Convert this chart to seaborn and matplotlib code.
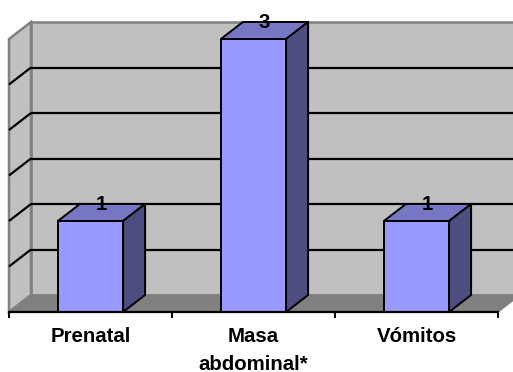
import numpy as np
import matplotlib
matplotlib.use("Agg")
import matplotlib.pyplot as plt
from matplotlib.patches import Polygon
from matplotlib.ticker import FixedLocator
import seaborn as sns

# Chart data
categories = ["Prenatal", "Masa\nabdominal*", "Vómitos"]
values = [1, 3, 1]
y_max = 3.0
grid_step = 0.5

# Colours of the pseudo-3D style
FRONT = "#9999FF"
TOP = "#7676C4"
SIDE = "#4D4D80"
WALL = "#C0C0C0"
FLOOR = "#808080"
WALL_EDGE = "#808080"

sns.set_style("white")
plt.rcParams["font.family"] = ["Liberation Sans", "DejaVu Sans"]

W, H, DPI = 513, 372, 100
fig = plt.figure(figsize=(W / DPI, H / DPI), dpi=DPI)
# front plane of the 3D box, in pixels
left_px, right_px, bottom_px, top_px = 9, 498, 312, 39
ax = fig.add_axes([left_px / W, (H - bottom_px) / H,
                   (right_px - left_px) / W, (bottom_px - top_px) / H])

sns.barplot(x=categories, y=values, color=FRONT, saturation=1, width=0.4,
            edgecolor="black", linewidth=1.4, errorbar=None, ax=ax, zorder=2)

n = len(categories)
ax.set_xlim(-0.5, n - 0.5)
ax.set_ylim(0, y_max)

# depth offset of the box (pixels -> data units)
depth_px = np.array([22.0, 17.0])
origin = ax.transData.transform((0, 0))
dx, dy = ax.transData.inverted().transform(origin + depth_px)

x0, x1 = -0.5, n - 0.5
# back wall
ax.add_patch(Polygon([(x0 + dx, dy), (x1 + dx, dy), (x1 + dx, y_max + dy),
                      (x0 + dx, y_max + dy)], closed=True, facecolor=WALL,
                     edgecolor=WALL_EDGE, lw=1.8, zorder=0.5, clip_on=False))
# left side wall
ax.add_patch(Polygon([(x0, 0), (x0 + dx, dy), (x0 + dx, y_max + dy),
                      (x0, y_max)], closed=True, facecolor=WALL,
                     edgecolor=WALL_EDGE, lw=1.8, zorder=0.5, clip_on=False))
# floor
ax.add_patch(Polygon([(x0, 0), (x1, 0), (x1 + dx, dy), (x0 + dx, dy)],
                     closed=True, facecolor=FLOOR, edgecolor=WALL_EDGE,
                     lw=1.0, zorder=0.6, clip_on=False))
# gridlines on the back wall and the side wall
for g in np.arange(grid_step, y_max, grid_step):
    ax.plot([x0 + dx, x1 + dx], [g + dy, g + dy], color="black", lw=1.6,
            zorder=0.7, clip_on=False, solid_capstyle="butt")
    ax.plot([x0, x0 + dx], [g, g + dy], color="black", lw=1.6,
            zorder=0.7, clip_on=False, solid_capstyle="butt")

# 3D faces of each bar and its value label
for bar, v in zip(ax.patches, values):
    bx0 = bar.get_x()
    bx1 = bx0 + bar.get_width()
    h = bar.get_height()
    ax.add_patch(Polygon([(bx0, h), (bx1, h), (bx1 + dx, h + dy), (bx0 + dx, h + dy)],
                         closed=True, facecolor=TOP, edgecolor="black", lw=1.4,
                         zorder=2.1, clip_on=False, joinstyle="round"))
    ax.add_patch(Polygon([(bx1, 0), (bx1 + dx, dy), (bx1 + dx, h + dy), (bx1, h)],
                         closed=True, facecolor=SIDE, edgecolor="black", lw=1.4,
                         zorder=2.1, clip_on=False, joinstyle="round"))
    ax.text((bx0 + bx1) / 2 + dx / 2, h + dy, f"{v:g}", ha="center", va="center",
            fontsize=14.7, fontweight="bold", color="black", zorder=3, clip_on=False)

# axes: only the bottom line with ticks between categories
for s in ["top", "right", "left"]:
    ax.spines[s].set_visible(False)
ax.spines["bottom"].set_color("black")
ax.spines["bottom"].set_linewidth(1.6)
ax.spines["bottom"].set_zorder(2.5)
ax.set_yticks([])
ax.set_xlabel("")
ax.set_ylabel("")
ax.xaxis.set_minor_locator(FixedLocator(np.arange(-0.5, n, 1.0)))
ax.tick_params(axis="x", which="major", length=0, pad=11)
ax.tick_params(axis="x", which="minor", length=4, width=1.4, color="black",
               direction="out", bottom=True)
for lab in ax.get_xticklabels():
    lab.set_fontsize(14.7)
    lab.set_fontweight("bold")
    lab.set_color("black")
    lab.set_linespacing(1.55)

fig.savefig("out.png", dpi=DPI, facecolor="white")
